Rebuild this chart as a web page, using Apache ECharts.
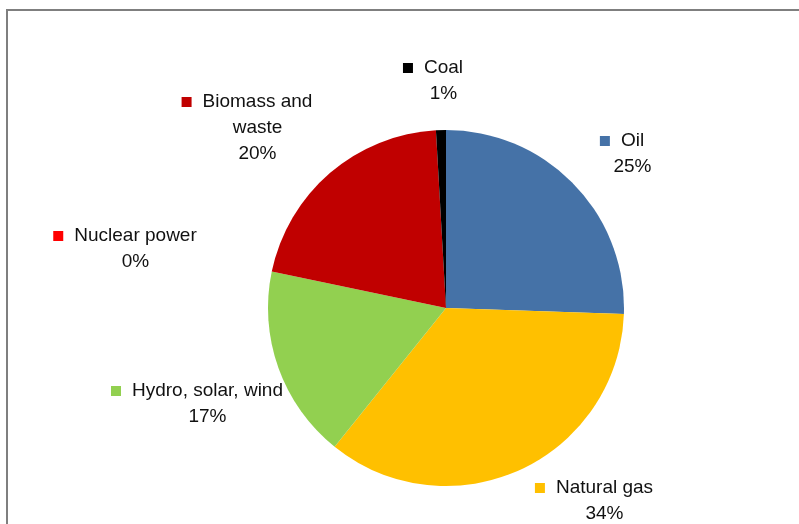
<!DOCTYPE html>
<html>
<head>
<meta charset="utf-8">
<script src="https://cdn.jsdelivr.net/npm/echarts@6/dist/echarts.min.js"></script>
<style>
  html, body { margin: 0; padding: 0; background: #fff; overflow: hidden; }
  #frame { position: absolute; left: 6px; top: 9px; width: 820px; height: 540px;
           border-left: 2px solid #7f7f7f; border-top: 2px solid #7f7f7f; }
  #main { position: absolute; left: 0; top: 0; width: 799px; height: 524px; }
</style>
</head>
<body>
<div id="frame"></div>
<div id="main"></div>
<script>
// energy mix, share of total (slices, labels as printed)
const categories = ['Oil', 'Natural gas', 'Hydro, solar, wind', 'Nuclear power', 'Biomass and waste', 'Coal'];
const shares = [25.5, 35.2, 17.5, 0, 20.8, 0.9];
const pctLabels = ['25%', '34%', '17%', '0%', '20%', '1%'];
const colors = ['#4572a7', '#ffc000', '#92d050', '#ff0000', '#c00000', '#000000'];

// pie geometry
const cx = 446, cy = 308, radius = 178;
// label block centre, offset from the pie centre (Excel "best fit" spots)
const labelOffset = [[176, -154], [148, 193], [-249, 96], [-321, -59], [-199, -180], [-13, -227]];
const wrapped = { 'Biomass and waste': 'Biomass and\nwaste' };

const fontFamily = '"Liberation Sans", Arial, sans-serif';

// rich styles: one coloured square per slice
const rich = {
  gap: { width: 11, align: 'center' },
  pad: { width: 21, align: 'center' },
  t: { fontSize: 19, fontFamily: fontFamily, color: '#111', lineHeight: 26, align: 'center' }
};
colors.forEach(function (c, i) {
  rich['sq' + i] = { width: 10, height: 10, backgroundColor: c, align: 'center' };
});

const chart = echarts.init(document.getElementById('main'));

const option = {
  animation: false,
  series: [{
    type: 'pie',
    center: [cx, cy],
    radius: radius,
    startAngle: 90,
    clockwise: true,
    avoidLabelOverlap: false,
    stillShowZeroSum: true,
    data: categories.map(function (name, i) {
      return { name: name, value: shares[i], itemStyle: { color: colors[i] } };
    }),
    itemStyle: { borderWidth: 0 },
    emphasis: { disabled: true },
    labelLine: { show: false },
    label: {
      show: true,
      position: 'outside',
      rich: rich,
      formatter: function (p) {
        const lines = (wrapped[p.name] || p.name).split('\n');
        let s = '{sq' + p.dataIndex + '|}{gap|}{t|' + lines[0] + '}';
        for (let k = 1; k < lines.length; k++) {
          s += '\n{pad|}{t|' + lines[k] + '}';
        }
        s += '\n{pad|}{t|' + pctLabels[p.dataIndex] + '}';
        return s;
      }
    },
    labelLayout: function (p) {
      const o = labelOffset[p.dataIndex];
      return { x: cx + o[0], y: cy + o[1], align: 'center', verticalAlign: 'middle' };
    }
  }]
};

chart.setOption(option);
</script>
</body>
</html>
